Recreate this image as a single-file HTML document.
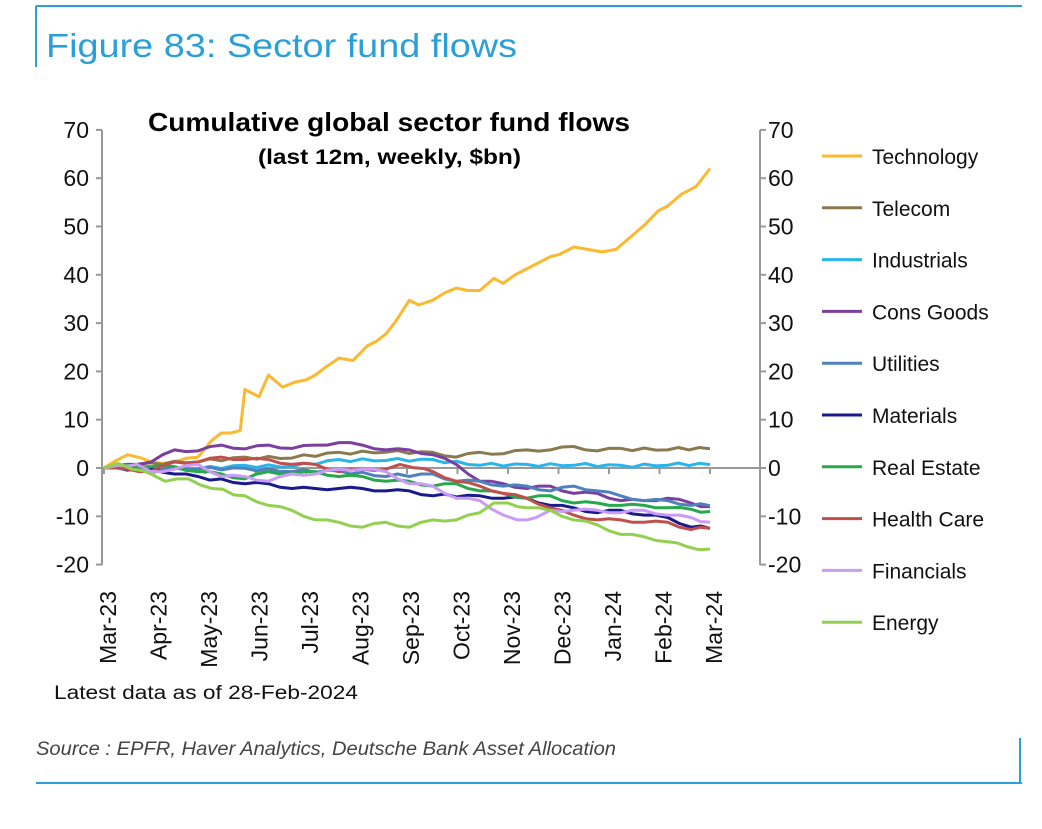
<!DOCTYPE html>
<html><head><meta charset="utf-8"><style>
body{margin:0;background:#fff;width:1042px;height:824px;overflow:hidden;font-family:"Liberation Sans",Arial,sans-serif}
</style></head><body>
<svg id="s" width="1042" height="824" xmlns="http://www.w3.org/2000/svg" font-family="Liberation Sans, Arial, sans-serif">
<line x1="36" y1="6" x2="1022" y2="6" stroke="#2a9fd8" stroke-width="2"/>
<line x1="36" y1="6" x2="36" y2="67" stroke="#2a9fd8" stroke-width="2"/>
<text x="46" y="57" font-size="33" fill="#2a9fd8" textLength="471" lengthAdjust="spacingAndGlyphs">Figure 83: Sector fund flows</text>
<text x="148" y="131" font-size="26" font-weight="bold" textLength="482" lengthAdjust="spacingAndGlyphs">Cumulative global sector fund flows</text>
<text x="258" y="164" font-size="21" font-weight="bold" textLength="263" lengthAdjust="spacingAndGlyphs">(last 12m, weekly, $bn)</text>
<g id="axes" stroke="#999" stroke-width="2" fill="none"></g>
<g id="lbl" font-size="23" fill="#111"></g>
<g id="ser" fill="none" stroke-width="3" stroke-linejoin="round"></g>
<g id="leg" font-size="21" fill="#111"></g>
<text x="54" y="699" font-size="19" fill="#111" textLength="304" lengthAdjust="spacingAndGlyphs">Latest data as of 28-Feb-2024</text>
<text x="36" y="755" font-size="19" font-style="italic" fill="#444" textLength="580" lengthAdjust="spacingAndGlyphs">Source : EPFR, Haver Analytics, Deutsche Bank Asset Allocation</text>
<line x1="36" y1="783" x2="1022" y2="783" stroke="#2a9fd8" stroke-width="2"/>
<line x1="1020" y1="738" x2="1020" y2="783" stroke="#2a9fd8" stroke-width="2"/>
</svg>
<script>
var NS="http://www.w3.org/2000/svg";
function el(p,t,a,txt){var e=document.createElementNS(NS,t);for(var k in a)e.setAttribute(k,a[k]);if(txt!=null)e.textContent=txt;document.getElementById(p).appendChild(e);return e;}
function Y(v){return 468-v*4.83;}
function X(m){return 104+m*(606/12.9);}
el("axes","line",{x1:102,y1:130,x2:102,y2:565});
el("axes","line",{x1:760,y1:130,x2:760,y2:565});
el("axes","line",{x1:102,y1:468,x2:762,y2:468});
for(var v=-20;v<=70;v+=10){var y=Y(v);
 el("axes","line",{x1:96,y1:y,x2:102,y2:y});el("axes","line",{x1:760,y1:y,x2:766,y2:y});
 el("lbl","text",{x:89,y:y+8,"text-anchor":"end"},v);
 el("lbl","text",{x:768,y:y+8},v);}
var mn=["Mar-23","Apr-23","May-23","Jun-23","Jul-23","Aug-23","Sep-23","Oct-23","Nov-23","Dec-23","Jan-24","Feb-24","Mar-24"];
for(var i=0;i<13;i++){var x=104+i*50.5;el("axes","line",{x1:x,y1:468,x2:x,y2:474});
 el("lbl","text",{x:0,y:0,"text-anchor":"end",transform:"translate("+(x+12)+",591) rotate(-90)"},mn[i]);}
var S=[
["Technology","#fbb92f",[[0,0],[.5,2.5],[.8,2.3],[1,1],[1.5,1.5],[2,2],[2.3,6],[2.5,7],[2.9,8],[3,16],[3.3,15],[3.5,19],[3.8,17],[4.3,18],[4.7,21],[5,22.5],[5.3,22.5],[5.6,25],[6,28],[6.2,30],[6.5,35],[6.7,33.5],[7,35],[7.5,37],[8,37],[8.3,39],[8.5,38.5],[9,41],[9.3,43],[9.7,44],[10,46],[10.3,45],[10.6,45],[10.9,45],[11.2,48],[11.5,50],[11.8,53.5],[12,54],[12.3,57],[12.6,58],[12.9,62]]],
["Telecom","#8a7a4f",[[0,0],[1,0.8],[2,1.5],[3,2],[4,2.3],[5,3],[6,3.5],[7,3],[7.5,2.5],[8,3],[8.5,3.2],[9,3.5],[9.5,4],[10,4.2],[10.5,3.8],[11,3.8],[12,4],[12.9,4]]],
["Industrials","#29b5ea",[[0,0],[1,-0.5],[2,0],[3,0.3],[4,0.5],[5,1.5],[6,1.8],[7,1.5],[8,0.8],[9,0.5],[10,0.8],[11,0.3],[12,0.8],[12.9,0.7]]],
["Cons Goods","#7a3f9f",[[0,0],[.5,0.5],[1,1.5],[1.5,3.5],[2,3.8],[2.5,4.5],[3,4.2],[3.5,4.5],[4,4.3],[4.5,4.5],[5,5.5],[5.5,4.5],[6,4],[6.5,3.5],[7,3],[7.5,0.5],[8,-2.5],[8.5,-3.5],[9,-4],[9.5,-4],[10,-5],[10.5,-5.5],[11,-6.5],[11.5,-7],[12,-6],[12.5,-7.5],[12.9,-8]]],
["Utilities","#4f81bd",[[0,0],[1,0],[2,0],[3,-0.3],[4,-0.5],[5,-0.8],[6,-1.5],[7,-1.5],[7.5,-2.5],[8,-3],[8.5,-3.5],[9,-4],[9.5,-4.5],[10,-4],[10.5,-4.5],[11,-6],[11.5,-6.5],[12,-7],[12.5,-7.5],[12.9,-7.8]]],
["Materials","#1a1a8c",[[0,0],[1,-0.3],[1.5,-1],[2,-2],[3,-3],[3.5,-3.5],[4,-4],[4.5,-4.5],[5,-4],[5.5,-4.5],[6,-4.5],[6.5,-5],[7,-5.5],[8,-6],[8.5,-6],[9,-6.5],[9.5,-7.5],[10,-8.5],[10.5,-9],[11,-9],[11.5,-9.5],[12,-10.5],[12.5,-12],[12.9,-12.5]]],
["Real Estate","#27a84a",[[0,0],[.5,0.3],[1,0.5],[1.5,0],[2,-0.5],[2.5,-1.5],[3,-2],[3.5,-1],[4,-1],[4.5,-1],[5,-1.5],[5.5,-2],[6,-2.5],[6.5,-3],[7,-3.5],[7.5,-3.5],[8,-4.5],[8.5,-5.5],[9,-6],[9.5,-6],[10,-7],[10.5,-7.5],[11,-7.5],[11.5,-8],[12,-8],[12.5,-8.8],[12.9,-9]]],
["Health Care","#c0504d",[[0,0],[.5,-0.5],[1,-0.5],[1.5,1],[2,1.5],[2.5,2],[3,2],[3.5,1.5],[4,1],[4.5,0.5],[5,-0.5],[5.5,-0.5],[6,0],[6.3,0.5],[6.6,0.3],[7,-1],[7.5,-2.5],[8,-4],[8.5,-5],[9,-6.5],[9.5,-8],[10,-10],[10.5,-10.5],[11,-11],[11.5,-11],[12,-11.5],[12.5,-12.5],[12.9,-12.5]]],
["Financials","#c99cf5",[[0,0],[.3,0.3],[.7,1],[1,-1],[1.5,0],[2,0.5],[2.5,-1.5],[3,-2],[3.5,-2.5],[4,-1.5],[4.5,-1],[5,-0.5],[5.5,0],[6,-1],[6.5,-3],[7,-4],[7.5,-6],[8,-7],[8.5,-9.5],[8.8,-11],[9.2,-10],[9.5,-9],[10,-8.5],[10.5,-9],[11,-9],[11.5,-9],[12,-9.5],[12.5,-10.5],[12.9,-11.2]]],
["Energy","#92d050",[[0,0],[.3,0.7],[.6,0],[1,-1.5],[1.3,-2.5],[1.8,-2.5],[2.3,-4],[3,-6],[3.5,-7.5],[4,-9],[4.5,-10.5],[5,-11.5],[5.5,-12],[6,-11.5],[6.5,-12],[7,-11],[7.5,-10.5],[8,-9.5],[8.3,-7],[8.6,-7.5],[9,-8],[9.5,-9],[10,-10.5],[10.5,-12],[11,-13.5],[11.5,-14.5],[12,-15],[12.4,-16.5],[12.9,-16.8]]]];
S.forEach(function(s,k){
 var pts=[];var d=s[2];
 for(var j=0;j<d.length-1;j++){var a=d[j],b=d[j+1];var n=Math.max(1,Math.round((b[0]-a[0])*4));
  for(var t=0;t<n;t++){var f=t/n;var m=a[0]+(b[0]-a[0])*f,v=a[1]+(b[1]-a[1])*f;var w=(j+t)%2?0.25:-0.25;if(j+t===0)w=0;pts.push(X(m).toFixed(1)+","+Y(v+w).toFixed(1));}}
 var L=d[d.length-1];pts.push(X(L[0]).toFixed(1)+","+Y(L[1]).toFixed(1));
 el("ser","polyline",{points:pts.join(" "),stroke:s[1]});
 var ly=156+k*51.8;
 el("leg","line",{x1:822,y1:ly,x2:862,y2:ly,stroke:s[1],"stroke-width":3});
 el("leg","text",{x:872,y:ly+8},s[0]);
});
</script>
</body></html>
